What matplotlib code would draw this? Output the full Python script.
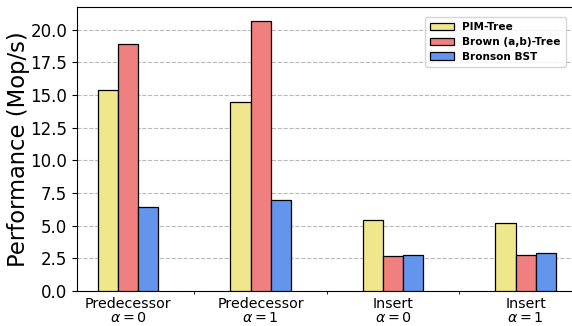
import numpy as np
import matplotlib.pyplot as plt

# throughput per workload (Mop/s)
workloads = ['Predecessor\n$\\alpha=0$', 'Predecessor\n$\\alpha=1$',
             'Insert\n$\\alpha=0$', 'Insert\n$\\alpha=1$']
pim_tree = [15.4, 14.45, 5.45, 5.2]
brown_ab = [18.9, 20.65, 2.65, 2.8]
bronson = [6.4, 7.0, 2.75, 2.95]

series = [('PIM-Tree', pim_tree, 'khaki'),
          ('Brown (a,b)-Tree', brown_ab, 'lightcoral'),
          ('Bronson BST', bronson, 'cornflowerblue')]

fig = plt.figure(figsize=(5.72, 3.26), dpi=100)
ax = fig.add_axes([0.1346, 0.107, 0.877, 0.870])

x = np.arange(len(workloads))
w = 0.152
for i, (name, vals, col) in enumerate(series):
    ax.bar(x + (i - 1) * w, vals, w, color=col, edgecolor='black',
           linewidth=0.9, label=name, zorder=3)

ax.set_xlim(-0.386, 3.40)
ax.set_ylim(0, 21.7)
ax.set_yticks(np.arange(0, 20.1, 2.5))
ax.tick_params(axis='y', labelsize=12)

# labels sit under the groups, small ticks between them
ax.set_xticks(x)
ax.set_xticklabels(workloads, fontsize=10.3, linespacing=1.05)
ax.tick_params(axis='x', length=0, pad=4)
ax.set_xticks(x[:-1] + 0.5, minor=True)
ax.tick_params(axis='x', which='minor', length=2.5)

ax.yaxis.grid(True, linestyle='--', color='gray', alpha=0.55, linewidth=0.8, zorder=0)
ax.set_axisbelow(True)
ax.set_ylabel('Performance (Mop/s)', fontsize=16.3, labelpad=0)

ax.legend(loc='upper right', bbox_to_anchor=(0.985, 0.985), prop={'weight': 'bold', 'size': 7.6},
          handlelength=2.2, borderpad=0.5, labelspacing=0.45)

plt.savefig('out.png', dpi=100)
